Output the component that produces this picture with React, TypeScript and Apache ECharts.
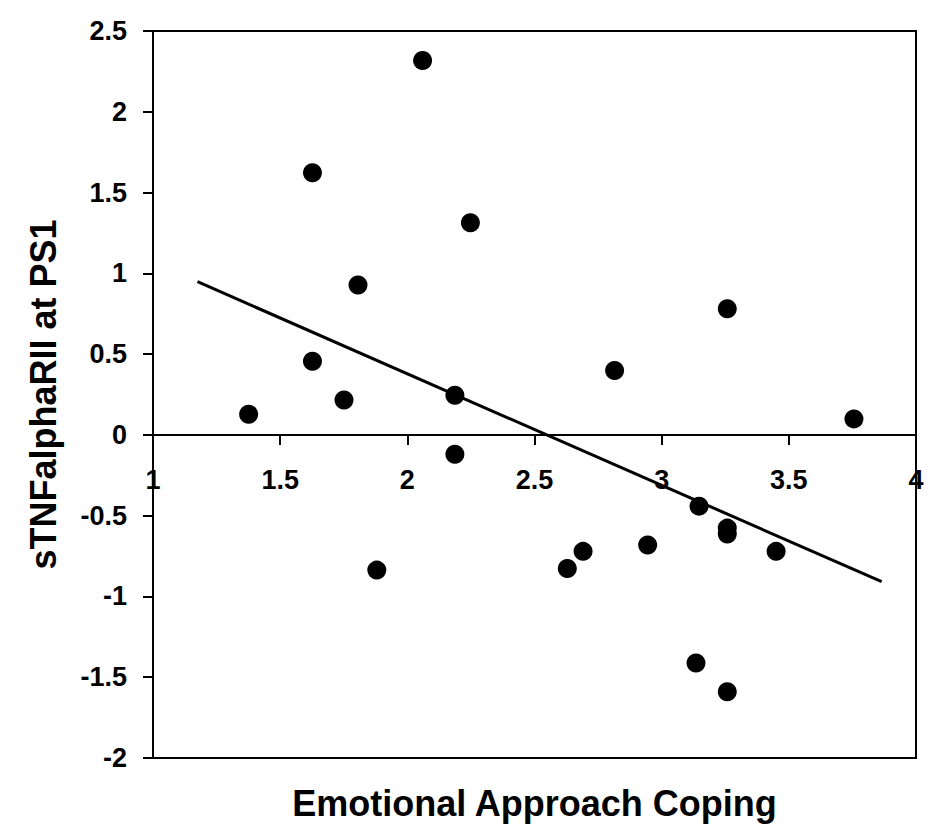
import React, { useEffect, useRef } from "react";
import * as echarts from "echarts";

const copingX = [
  2.06, 1.627, 2.248, 1.806, 3.258, 1.627, 2.815, 2.187, 1.751, 1.376, 3.756,
  2.187, 3.147, 3.258, 3.258, 2.945, 2.691, 3.45, 2.629, 1.88, 3.135, 3.258,
];
const tnfY = [
  2.317, 1.622, 1.313, 0.928, 0.781, 0.456, 0.398, 0.245, 0.216, 0.128, 0.099,
  -0.12, -0.441, -0.577, -0.614, -0.682, -0.721, -0.721, -0.827, -0.837, -1.412, -1.59,
];
const trendX = [1.175, 3.865];
const trendY = [0.948, -0.909];

const xTitle = "Emotional Approach Coping";
const yTitle = "sTNFalphaRII at PS1";

const FONT = "'Liberation Sans', Arial, Helvetica, sans-serif";

const W = 943;
const H = 837;
const GRID = { left: 153, right: 27, top: 31, bottom: 79 };
const Y_MIN = -2;
const Y_MAX = 2.5;

export default function App() {
  const ref = useRef<HTMLDivElement>(null);
  useEffect(() => {
    if (!ref.current) return;
    const chart = echarts.init(ref.current, null, { renderer: "svg" });
    const points = copingX.map((x, i) => [x, tnfY[i]]);
    const trend = trendX.map((x, i) => [x, trendY[i]]);
    const gridH = H - GRID.top - GRID.bottom;
    const zeroFromBottom = ((0 - Y_MIN) / (Y_MAX - Y_MIN)) * gridH;
    chart.setOption({
      animation: false,
      backgroundColor: "#ffffff",
      grid: {
        ...GRID,
        containLabel: false,
        outerBoundsMode: "none",
        show: true,
        borderColor: "#000",
        borderWidth: 2,
        backgroundColor: "transparent",
      },
      xAxis: {
        type: "value",
        position: "bottom",
        offset: -zeroFromBottom,
        min: 1,
        max: 4,
        interval: 0.5,
        name: xTitle,
        nameLocation: "middle",
        nameGap: 351,
        nameTextStyle: { fontFamily: FONT, fontWeight: "bold", fontSize: 36, color: "#000" },
        axisLine: { show: true, onZero: false, lineStyle: { color: "#000", width: 2 } },
        axisTick: { show: true, inside: false, length: 10, lineStyle: { color: "#000", width: 2 } },
        axisLabel: { margin: 32, fontFamily: FONT, fontWeight: "bold", fontSize: 27, color: "#000" },
        splitLine: { show: false },
      },
      yAxis: {
        type: "value",
        min: Y_MIN,
        max: Y_MAX,
        interval: 0.5,
        name: yTitle,
        nameLocation: "middle",
        nameGap: 92,
        nameTextStyle: { fontFamily: FONT, fontWeight: "bold", fontSize: 36, color: "#000" },
        axisLine: { show: true, onZero: false, lineStyle: { color: "#000", width: 2 } },
        axisTick: { show: true, inside: false, length: 10, lineStyle: { color: "#000", width: 2 } },
        axisLabel: { margin: 26, fontFamily: FONT, fontWeight: "bold", fontSize: 27, color: "#000" },
        splitLine: { show: false },
      },
      series: [
        {
          type: "line",
          data: trend,
          showSymbol: false,
          symbol: "none",
          lineStyle: { color: "#000", width: 3 },
          z: 1,
        },
        {
          type: "scatter",
          data: points,
          symbol: "circle",
          symbolSize: 19,
          itemStyle: { color: "#000", opacity: 1 },
          z: 3,
        },
      ],
    });
    return () => chart.dispose();
  }, []);
  return (
    <div
      ref={ref}
      style={{ position: "absolute", left: 0, top: 0, width: W, height: H, background: "#fff" }}
    />
  );
}
